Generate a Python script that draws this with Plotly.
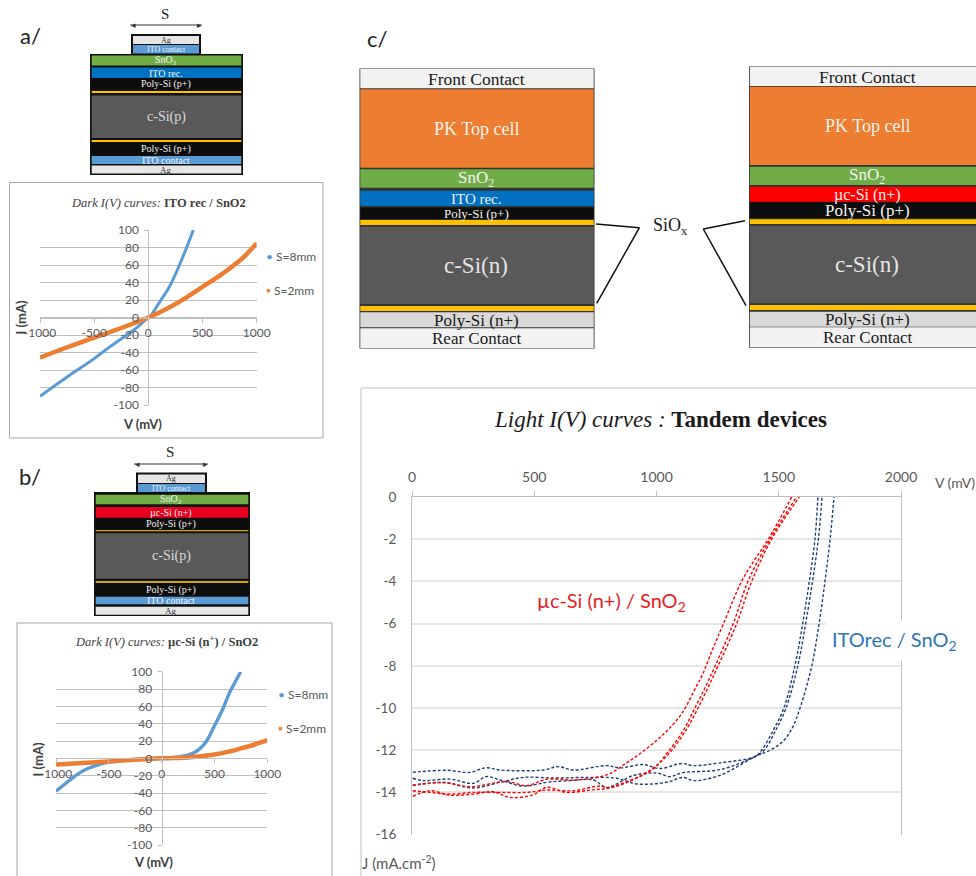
import plotly.graph_objects as go

W, H = 976, 876

# ---------- data: dark I(V), panel a
a_s8_v = [-1000, -750, -500, -350, -200, -100, -30, 20, 50, 80, 138, 185, 230, 270, 308, 369, 415]
a_s8_i = [-90, -68, -47, -33, -20, -11, -3, 2, 7, 13, 24, 33, 44, 55, 66, 85, 100]
a_s2_v = [-1000, -750, -500, -250, -100, 0, 170, 300, 500, 625, 750, 880, 1000]
a_s2_i = [-46, -34, -23, -12, -5, 0, 10, 19, 35, 45, 56, 69, 85]

# ---------- data: dark I(V), panel b
b_s8_v = [-1000, -930, -868, -780, -694, -600, -520, -331, 0, 170, 240, 300, 350, 394, 445, 489, 568, 647, 700, 748]
b_s8_i = [-38, -31, -25, -17, -11.5, -7.5, -5, -2, 0, 2, 3.5, 6, 10, 15, 24, 35, 54, 77, 89, 100]
b_s2_v = [-1000, -500, 0, 250, 500, 625, 750, 880, 1000]
b_s2_i = [-7, -3.5, 0, 1, 4.5, 7.5, 11.5, 16, 21]

# ---------- data: light J(V) tandem devices
ito_1_v = [3, 142, 237, 303, 360, 537, 598, 660, 796, 851, 946, 1014, 1103, 1150, 1260, 1403, 1430, 1480, 1521, 1566, 1598, 1625, 1648, 1660]
ito_1_j = [-13.05, -12.95, -13.05, -12.83, -12.94, -12.94, -12.78, -12.94, -12.73, -12.84, -12.68, -12.87, -12.63, -12.73, -12.6, -12.3, -12, -11, -10, -8, -6, -4, -2, 0]
ito_2_v = [3, 46, 155, 251, 303, 360, 456, 552, 647, 742, 796, 905, 1000, 1055, 1110, 1260, 1403, 1440, 1490, 1530, 1578, 1610, 1638, 1662, 1677]
ito_2_j = [-13.33, -13.44, -13.37, -13.57, -13.25, -13.41, -13.7, -13.52, -13.44, -13.41, -13.76, -13.2, -13.08, -13.25, -13.06, -12.92, -12.3, -12, -11, -10, -8, -6, -4, -2, 0]
ito_3_v = [3, 128, 251, 360, 456, 592, 701, 837, 919, 1041, 1110, 1150, 1260, 1403, 1464, 1515, 1553, 1587, 1635, 1665, 1689, 1710, 1726]
ito_3_j = [-13.68, -13.52, -13.79, -13.52, -13.29, -13.32, -13.29, -13.33, -13.6, -13.52, -13.29, -13.44, -13.19, -12.3, -12, -11.6, -11, -10, -8, -6, -4, -2, 0]
mc_1_v = [3, 128, 237, 387, 469, 550, 673, 796, 878, 940, 1000, 1050, 1103, 1164, 1185, 1230, 1274, 1348, 1400, 1457, 1553]
mc_1_j = [-13.65, -13.54, -13.73, -13.49, -13.68, -13.38, -13.41, -13.17, -12.6, -12.1, -11.54, -11, -10.27, -8.95, -8.5, -7.2, -6, -4, -3, -2, 0]
mc_2_v = [3, 74, 155, 251, 333, 401, 496, 550, 633, 728, 803, 905, 987, 1041, 1110, 1157, 1200, 1240, 1314, 1374, 1464, 1573]
mc_2_j = [-14.19, -13.92, -14.13, -14.08, -13.97, -14.24, -14.11, -13.76, -14, -13.89, -13.79, -13.37, -12.89, -12.17, -11.06, -10, -9, -8, -6, -4, -2, 0]
mc_3_v = [3, 74, 155, 251, 360, 469, 550, 660, 769, 803, 864, 967, 1048, 1123, 1170, 1212, 1252, 1328, 1389, 1471, 1584]
mc_3_j = [-13.92, -14, -14.08, -14, -14, -14, -13.89, -13.92, -13.7, -13.79, -13.6, -13, -12.2, -11, -10, -9, -8, -6, -4, -2, 0]

dark_names = ["S=8mm", "S=2mm"]
light_x_ticks = [0, 500, 1000, 1500, 2000]
light_y_ticks = [0, -2, -4, -6, -8, -10, -12, -14, -16]
dark_x_ticks = [-1000, -500, 0, 500, 1000]
dark_y_ticks = [100, 80, 60, 40, 20, 0, -20, -40, -60, -80, -100]

# ---------- layer stacks (label, fill)
WHITE, LGREY = "#f2f2f2", "#d9d9d9"
GREEN, ITOREC, ITOC, RED = "#70ad47", "#0070c0", "#5b9bd5", "#ff0000"
BLACK, YEL, CSI, ORANGE = "#0d0d0d", "#ffc000", "#595959", "#ed7d31"

SANS = "Lato"
SERIF = "Liberation Serif"
GREY = "#595959"
shapes, annos = [], []


def fx(p): return p / W
def fy(p): return 1 - p / H


def rect(x0, y0, x1, y1, fill, line=None, lw=1):
    shapes.append(dict(type="rect", xref="paper", yref="paper", x0=fx(x0), x1=fx(x1), y0=fy(y1), y1=fy(y0),
                       fillcolor=fill, line=dict(color=line or fill, width=lw if line else 0), layer="below"))


def seg(x0, y0, x1, y1, color="#111111", lw=1.5):
    shapes.append(dict(type="line", xref="paper", yref="paper", x0=fx(x0), x1=fx(x1), y0=fy(y0), y1=fy(y1),
                       line=dict(color=color, width=lw), layer="below"))


def text(x, y, s, size=12, color="#222222", family=SERIF, bg=None, angle=0, anchor="center", pad=0):
    a = dict(xref="paper", yref="paper", x=fx(x), y=fy(y), text=s, showarrow=False, xanchor=anchor, yanchor="middle",
             font=dict(size=size, color=color, family=family), borderpad=pad, textangle=angle)
    if bg:
        a["bgcolor"] = bg
    annos.append(a)


def s_arrow(x0, x1, y):
    seg(x0, y, x1, y, "#333333", 1)
    for tx, sym in [(x0 + 3, "◂"), (x1 - 3, "▸")]:
        text(tx, y, sym, 9, "#333333")


def small_stack(xf0, xf1, frame_y0, frame_y1, xt0, xt1, top, layers, cx):
    rect(xt0, top[0] - 1, xt1, frame_y0 + 1, "#111111")
    rect(xt0 + 2, top[0] + 1, xt1 - 2, top[1], "#e7e6e6")
    rect(xt0 + 2, top[1] + 1, xt1 - 2, top[2], ITOC)
    text(cx, (top[0] + top[1]) / 2 + 0.5, "Ag", 8, "#333333")
    text(cx, (top[1] + top[2]) / 2 + 0.5, "ITO contact", 8, "#eef5fb")
    rect(xf0, frame_y0, xf1, frame_y1, "#111111")
    for y0, y1, fill, lab, size, col in layers:
        rect(xf0 + 1.7, y0, xf1 - 1.7, y1, fill)
        if lab:
            text(cx, (y0 + y1) / 2 + 0.3, lab, size, col)


# --- panel a diagram
text(30, 35, "a/", 22, "#222222", SANS)
text(165, 14, "S", 15, "#222222")
s_arrow(130, 202, 25)
small_stack(90, 243, 54, 175, 131, 201, (35, 44, 53.5), [
    (55.5, 65.5, GREEN, "SnO<sub>2</sub>", 10, "#f2f2f2"),
    (67.5, 78, ITOREC, "ITO rec.", 10, "#f2f2f2"),
    (78, 90, BLACK, "Poly-Si (p+)", 10, "#f2f2f2"),
    (91, 93, YEL, "", 0, ""),
    (95.5, 138, CSI, "c-Si(p)", 14, LGREY),
    (140, 142, YEL, "", 0, ""),
    (143, 155, BLACK, "Poly-Si (p+)", 10, "#f2f2f2"),
    (156, 164, ITOC, "ITO contact", 10, "#eef5fb"),
    (165.5, 173.5, "#e7e6e6", "Ag", 9, "#333333"),
], 166)

# --- panel b diagram
text(30, 477, "b/", 22, "#222222", SANS)
text(170, 452, "S", 15, "#222222")
s_arrow(134, 208, 464)
small_stack(94, 250, 492, 616, 136, 207, (473.5, 483, 492), [
    (494.7, 504.3, GREEN, "SnO<sub>2</sub>", 10, "#f2f2f2"),
    (507, 517.7, "#e8001e", "µc-Si (n+)", 10, "#f2f2f2"),
    (518.7, 529.3, BLACK, "Poly-Si (p+)", 10, "#f2f2f2"),
    (530, 531.3, "#d4a500", "", 0, ""),
    (533.3, 578.7, CSI, "c-Si(p)", 14, LGREY),
    (581, 583, "#d4a500", "", 0, ""),
    (583.7, 594.7, BLACK, "Poly-Si (p+)", 10, "#f2f2f2"),
    (596.7, 604.3, ITOC, "ITO contact", 10, "#eef5fb"),
    (606.7, 614.7, "#e7e6e6", "Ag", 9, "#333333"),
], 171)

# --- panel c diagrams
text(377, 38, "c/", 22, "#222222", SANS)


def big_stack(x0, x1, cx, layers):
    rect(x0, layers[0][0] - 0.5, x1, layers[-1][1] + 0.5, "#333333")
    for y0, y1, fill, lab, size, col in layers:
        rect(x0 + 0.8, y0, x1 - 0.8, y1, fill)
    for y0, y1, fill, lab, size, col in layers:
        if lab:
            text(cx, (y0 + y1) / 2 + 0.4, lab, size, col)


big_stack(359.5, 594.5, 476, [
    (69, 88.3, WHITE, "Front Contact", 17.5, "#1a1a1a"),
    (89.3, 167.7, ORANGE, "PK Top cell", 18, "#f7f0ea"),
    (169.3, 187.7, GREEN, "SnO<sub>2</sub>", 17, "#f2f2f2"),
    (190.7, 206, ITOREC, "ITO rec.", 15, "#f2f2f2"),
    (207.5, 219, BLACK, "Poly-Si (p+)", 13, "#f2f2f2"),
    (220, 225, YEL, "", 0, ""),
    (226.7, 304, CSI, "c-Si(n)", 23, "#e4e4e4"),
    (306, 311, YEL, "", 0, ""),
    (312.3, 327.3, LGREY, "Poly-Si (n+)", 17, "#1a1a1a"),
    (328.3, 348, WHITE, "Rear Contact", 17, "#1a1a1a"),
])
big_stack(749, 990, 867, [
    (67, 86, WHITE, "Front Contact", 17.5, "#1a1a1a"),
    (86.7, 165, ORANGE, "PK Top cell", 18, "#f7f0ea"),
    (166.7, 185, GREEN, "SnO<sub>2</sub>", 17, "#f2f2f2"),
    (186.7, 201.7, RED, "µc-Si (n+)", 16, "#f2f2f2"),
    (202.3, 218.3, BLACK, "Poly-Si (p+)", 17, "#f2f2f2"),
    (219.3, 224, YEL, "", 0, ""),
    (225.7, 303.3, CSI, "c-Si(n)", 23, "#e4e4e4"),
    (305, 310, YEL, "", 0, ""),
    (311.7, 326.7, LGREY, "Poly-Si (n+)", 17, "#1a1a1a"),
    (327.3, 347.3, WHITE, "Rear Contact", 17, "#1a1a1a"),
])
seg(596, 224, 639.4, 227.7)
seg(639.4, 227.7, 596.7, 303.3)
seg(745, 220.7, 703.3, 229)
seg(703.3, 229, 746, 305.7)
text(670, 226, "SiO<sub>x</sub>", 18, "#1a1a1a")

# --- chart frames
rect(9.5, 182.5, 323, 438, "#ffffff", "#a6a6a6", 1)
rect(17, 623, 332, 890, "#ffffff", "#a6a6a6", 1)
rect(361, 388, 990, 890, "#ffffff", "#bfbfbf", 1)

# --- chart texts
text(158, 203, "<i>Dark I(V) curves:</i> <b>ITO rec / SnO2</b>", 12.5, "#404040")
text(166, 641, "<i>Dark I(V) curves:</i> <b>µc-Si (n<sup>+</sup>) / SnO2</b>", 12.5, "#404040")
text(20.5, 318, "<b>I (mA)</b>", 13, "#404040", SANS, angle=-90)
text(37.5, 760, "<b>I (mA)</b>", 13, "#404040", SANS, angle=-90)
text(142, 424, "<b>V (mV)</b>", 13, "#404040", SANS)
text(153, 862, "<b>V (mV)</b>", 13, "#404040", SANS)

BLUE_D, ORANGE_D = "#5b9bd5", "#ed7d31"
for (lx, ly, i) in [(265, 256, 0), (265, 290, 1), (277, 694, 0), (277, 728, 1)]:
    col = [BLUE_D, ORANGE_D][i]
    text(lx, ly, f'<span style="color:{col}">{"•" if i == 0 else "▪"}</span> {dark_names[i]}', 12, GREY, SANS, anchor="left")

text(660, 420, "<i>Light I(V) curves :</i> <b>Tandem devices</b>", 23, "#1a1a1a")
text(955, 482, "V (mV)", 14, GREY, SANS)
text(361, 862, "J (mA.cm<sup>-2</sup>)", 15, GREY, SANS, anchor="left")
text(611, 601, "µc-Si (n+) / SnO<sub>2</sub>", 20, "#ea1c24", SANS)
text(894, 640, "ITOrec / SnO<sub>2</sub>", 20, "#2e75b6", SANS, bg="#ffffff", pad=6)

# ---------- traces
fig = go.Figure()


def line(v, i, name, color, width, xa, ya, dash=None):
    fig.add_trace(go.Scatter(x=v, y=i, name=name, mode="lines", xaxis=xa, yaxis=ya, cliponaxis=False, showlegend=False,
                             line=dict(color=color, width=width, shape="spline", smoothing=1, dash=dash)))


line(a_s8_v, a_s8_i, dark_names[0], BLUE_D, 3, "x", "y")
line(a_s2_v, a_s2_i, dark_names[1], ORANGE_D, 4.5, "x", "y")
line(b_s8_v, b_s8_i, dark_names[0], BLUE_D, 3.4, "x2", "y2")
line(b_s2_v, b_s2_i, dark_names[1], ORANGE_D, 4.5, "x2", "y2")
NAVY, REDL = "#1f3f77", "#ff0000"
for v, j in [(ito_1_v, ito_1_j), (ito_2_v, ito_2_j), (ito_3_v, ito_3_j)]:
    line(v, j, "ITOrec / SnO2", NAVY, 1.4, "x3", "y3", dash="3px,2px")
for v, j in [(mc_1_v, mc_1_j), (mc_2_v, mc_2_j), (mc_3_v, mc_3_j)]:
    line(v, j, "µc-Si (n+) / SnO2", REDL, 1.4, "x3", "y3", dash="3px,2px")

# ---------- axes


def dark_axes(n, x0, x1, y_top, y_bot):
    x_zero = (x0 + x1) / 2
    y_zero = (y_top + y_bot) / 2
    common = dict(showline=True, linecolor="#bfbfbf", linewidth=1, ticks="outside", ticklen=4, tickcolor="#bfbfbf",
                  zeroline=False, tickfont=dict(family=SANS, size=12, color=GREY))
    fig.update_layout({
        f"xaxis{n}": dict(domain=[fx(x0), fx(x1)], range=[-1000, 1000], tickmode="array", tickvals=dark_x_ticks,
                          ticktext=[str(t) for t in dark_x_ticks],
                          showgrid=False, anchor="free", position=fy(y_zero), **common),
        f"yaxis{n}": dict(domain=[fy(y_bot), fy(y_top)], range=[-100, 100], tickmode="array", tickvals=dark_y_ticks,
                          ticktext=[str(t) for t in dark_y_ticks], ticklabelstandoff=3,
                          showgrid=True, gridcolor="#bfbfbf", gridwidth=1, anchor="free", position=fx(x_zero), **common),
    })


dark_axes("", 40, 256.7, 230, 405)
dark_axes("2", 56, 267.3, 671.7, 845)

fig.update_layout(
    xaxis3=dict(domain=[fx(412), fx(901)], range=[0, 2000], side="top", anchor="y3", tickmode="array", tickvals=light_x_ticks,
                showgrid=False, zeroline=False, showline=True, linecolor="#bfbfbf", ticks="outside", ticklen=5, tickcolor="#bfbfbf",
                ticklabelstandoff=3, tickfont=dict(family=SANS, size=14, color=GREY)),
    yaxis3=dict(domain=[fy(834.6), fy(497)], range=[-16, 0], anchor="x3", tickmode="array", tickvals=light_y_ticks,
                ticktext=[str(t) for t in light_y_ticks], ticklabelstandoff=12,
                showgrid=True, gridcolor="#e6e6e6", gridwidth=1.5, zeroline=False, showline=True, mirror=True, linecolor="#bfbfbf",
                ticks="", tickfont=dict(family=SANS, size=13.5, color=GREY)),
    width=W, height=H, margin=dict(l=0, r=0, t=0, b=0, autoexpand=False), autosize=False, showlegend=False,
    paper_bgcolor="#ffffff", plot_bgcolor="rgba(0,0,0,0)",
    shapes=shapes, annotations=annos, font=dict(family=SANS),
)

fig.write_html("out.html", config={"displayModeBar": False},
               post_script="document.body.style.margin='0';document.body.style.overflow='hidden';")
